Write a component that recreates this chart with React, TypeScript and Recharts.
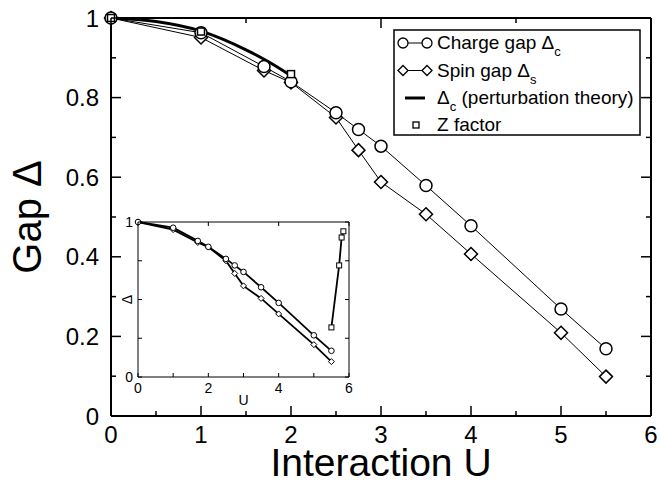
import { CartesianGrid, Line, LineChart, XAxis, YAxis } from "recharts";

// values
const chargeU = [0, 1, 1.7, 2, 2.5, 2.75, 3, 3.5, 4, 5, 5.5];
const chargeGap = [1, 0.963, 0.878, 0.84, 0.762, 0.72, 0.678, 0.579, 0.478, 0.269, 0.169];
const spinU = [0, 1, 1.7, 2, 2.5, 2.75, 3, 3.5, 4, 5, 5.5];
const spinGap = [1, 0.951, 0.868, 0.838, 0.75, 0.668, 0.588, 0.507, 0.407, 0.209, 0.099];
const pertU = [0, 0.5, 1, 1.5, 1.75, 2];
const pertGap = [1, 0.991, 0.967, 0.92, 0.89, 0.855];
const zU = [0, 1, 2];
const zVal = [1, 0.966, 0.859];
const zInsetU = [5.5, 5.72, 5.79, 5.84];
const zInsetVal = [0.32, 0.72, 0.9, 0.94];

const xTicks = [0, 0.5, 1, 1.5, 2, 2.5, 3, 3.5, 4, 4.5, 5, 5.5, 6];
const yTicks = [0, 0.1, 0.2, 0.3, 0.4, 0.5, 0.6, 0.7, 0.8, 0.9, 1];
const insetXTicks = [0, 1, 2, 3, 4, 5, 6];
const insetYTicks = [0, 0.25, 0.5, 0.75, 1];

const FONT = "'Liberation Sans', Arial, Helvetica, sans-serif";

const pts = (xs: number[], ys: number[]) => xs.map((u, i) => ({ u, g: ys[i] }));
const charge = pts(chargeU, chargeGap);
const spin = pts(spinU, spinGap);
const pert = pts(pertU, pertGap);
const zf = pts(zU, zVal);
const zfInset = pts(zInsetU, zInsetVal);

const near = (a: number, b: number) => Math.abs(a - b) < 1e-6;
const isInt = (v: number) => near(v, Math.round(v));
const isFifth = (v: number) => near(v * 5, Math.round(v * 5));

type Side = "bottom" | "top" | "left" | "right";

// inward tick line + optional label; tickSize/tickMargin are 0 so (x,y) sits on the axis line
function makeTick(
  side: Side,
  o: { len: (v: number) => number; label?: (v: number) => string; size?: number; gap?: number; sw?: number }
) {
  return function Tick(p: any) {
    const v = p.payload.value as number;
    const L = o.len(v);
    const x = Number(p.x);
    const y = Number(p.y);
    const dx = side === "left" ? L : side === "right" ? -L : 0;
    const dy = side === "bottom" ? -L : side === "top" ? L : 0;
    const lab = o.label ? o.label(v) : "";
    const gap = o.gap ?? 0;
    return (
      <g>
        <line x1={x} y1={y} x2={x + dx} y2={y + dy} stroke="#000" strokeWidth={o.sw ?? 1} />
        {lab !== "" &&
          (side === "bottom" ? (
            <text x={x} y={y + gap} textAnchor="middle" fontSize={o.size} fontFamily={FONT} fill="#000">
              {lab}
            </text>
          ) : (
            <text x={x - gap} y={y} dy="0.36em" textAnchor="end" fontSize={o.size} fontFamily={FONT} fill="#000">
              {lab}
            </text>
          ))}
      </g>
    );
  };
}

const circleDot = (r: number, sw: number) => (p: any) =>
  <circle key={`c${p.index}`} cx={p.cx} cy={p.cy} r={r} fill="#fff" stroke="#000" strokeWidth={sw} />;
const diamondDot = (h: number, sw: number) => (p: any) =>
  (
    <path
      key={`d${p.index}`}
      d={`M${p.cx},${p.cy - h}L${p.cx + h},${p.cy}L${p.cx},${p.cy + h}L${p.cx - h},${p.cy}Z`}
      fill="#fff"
      stroke="#000"
      strokeWidth={sw}
    />
  );
const squareDot = (h: number, sw: number) => (p: any) =>
  (
    <rect key={`s${p.index}`} x={p.cx - h} y={p.cy - h} width={2 * h} height={2 * h} fill="#fff" stroke="#000" strokeWidth={sw} />
  );

const mainX = (v: number) => (isInt(v) ? 10 : 5);
const mainY = (v: number) => (isFifth(v) ? 10 : 5);
const mainYLabel = (v: number) => (!isFifth(v) ? "" : near(v, 0) ? "0" : near(v, 1) ? "1" : v.toFixed(1));
const axisLine = { stroke: "#000", strokeWidth: 2 };
const insetLine = { stroke: "#000", strokeWidth: 1 };

function MainChart() {
  return (
    <LineChart width={660} height={481} margin={{ top: 17, right: 8, left: 0, bottom: 0 }}>
      <XAxis
        dataKey="u"
        type="number"
        domain={[0, 6]}
        ticks={xTicks}
        interval={0}
        height={65}
        tickSize={0}
        tickMargin={0}
        tickLine={false}
        axisLine={axisLine}
        tick={makeTick("bottom", { len: mainX, label: (v) => (isInt(v) ? String(v) : ""), size: 24, gap: 27, sw: 1.5 })}
        label={(props: any) => {
          const vb = props.viewBox;
          return (
            <text x={vb.x + vb.width / 2} y={vb.y + 60} textAnchor="middle" fontSize={39} fontFamily={FONT} fill="#000">
              Interaction U
            </text>
          );
        }}
      />
      <XAxis
        xAxisId="top"
        orientation="top"
        type="number"
        domain={[0, 6]}
        ticks={xTicks}
        interval={0}
        height={1}
        tickSize={0}
        tickMargin={0}
        tickLine={false}
        axisLine={axisLine}
        tick={makeTick("top", { len: mainX, sw: 1.5 })}
      />
      <YAxis
        type="number"
        domain={[0, 1]}
        ticks={yTicks}
        interval={0}
        width={111}
        tickSize={0}
        tickMargin={0}
        tickLine={false}
        axisLine={axisLine}
        tick={makeTick("left", { len: mainY, label: mainYLabel, size: 24, gap: 12, sw: 1.5 })}
        label={(props: any) => {
          const vb = props.viewBox;
          const cx = vb.x + 41;
          const cy = vb.y + vb.height / 2;
          return (
            <text x={cx} y={cy} transform={`rotate(-90, ${cx}, ${cy})`} textAnchor="middle" fontSize={40} fontFamily={FONT} fill="#000">
              Gap Δ
            </text>
          );
        }}
      />
      <YAxis
        yAxisId="right"
        orientation="right"
        type="number"
        domain={[0, 1]}
        ticks={yTicks}
        interval={0}
        width={1}
        tickSize={0}
        tickMargin={0}
        tickLine={false}
        axisLine={axisLine}
        tick={makeTick("right", { len: mainY, sw: 1.5 })}
      />
      <Line data={spin} dataKey="g" stroke="#000" strokeWidth={1} dot={diamondDot(6.5, 1.5)} isAnimationActive={false} />
      <Line data={charge} dataKey="g" stroke="#000" strokeWidth={1} dot={circleDot(6, 1.5)} isAnimationActive={false} />
      <Line data={pert} dataKey="g" type="monotone" stroke="#000" strokeWidth={3} dot={false} isAnimationActive={false} />
      <Line data={zf} dataKey="g" stroke="none" dot={squareDot(3.5, 1.5)} isAnimationActive={false} />
      {/* invisible series so the top/right frame axes get a scale */}
      <Line data={zf} dataKey="g" xAxisId="top" yAxisId="right" stroke="none" dot={false} legendType="none" isAnimationActive={false} />
    </LineChart>
  );
}

function InsetChart() {
  return (
    <LineChart width={260} height={200} margin={{ top: 9, right: 10, left: 0, bottom: 0 }}>
      <CartesianGrid horizontal={false} vertical={false} fill="#fff" />
      <XAxis
        dataKey="u"
        type="number"
        domain={[0, 6]}
        ticks={insetXTicks}
        interval={0}
        height={35}
        tickSize={0}
        tickMargin={0}
        tickLine={false}
        axisLine={insetLine}
        tick={makeTick("bottom", { len: () => 4, label: (v) => (v % 2 === 0 ? String(v) : ""), size: 14, gap: 16 })}
        label={(props: any) => {
          const vb = props.viewBox;
          return (
            <text x={vb.x + vb.width / 2} y={vb.y + 28} textAnchor="middle" fontSize={14} fontFamily={FONT} fill="#000">
              U
            </text>
          );
        }}
      />
      <XAxis
        xAxisId="top"
        orientation="top"
        type="number"
        domain={[0, 6]}
        ticks={insetXTicks}
        interval={0}
        height={1}
        tickSize={0}
        tickMargin={0}
        tickLine={false}
        axisLine={insetLine}
        tick={makeTick("top", { len: () => 4 })}
      />
      <YAxis
        type="number"
        domain={[0, 1]}
        ticks={insetYTicks}
        interval={0}
        width={38}
        tickSize={0}
        tickMargin={0}
        tickLine={false}
        axisLine={insetLine}
        tick={makeTick("left", { len: () => 4, label: (v) => (v === 0 ? "0" : v === 1 ? "1" : ""), size: 14, gap: 5 })}
        label={(props: any) => {
          const vb = props.viewBox;
          const cx = vb.x + vb.width - 6;
          const cy = vb.y + vb.height / 2;
          return (
            <text x={cx} y={cy} transform={`rotate(-90, ${cx}, ${cy})`} textAnchor="middle" fontSize={14} fontFamily={FONT} fill="#000">
              Δ
            </text>
          );
        }}
      />
      <YAxis
        yAxisId="right"
        orientation="right"
        type="number"
        domain={[0, 1]}
        ticks={insetYTicks}
        interval={0}
        width={1}
        tickSize={0}
        tickMargin={0}
        tickLine={false}
        axisLine={insetLine}
        tick={makeTick("right", { len: () => 4 })}
      />
      <Line data={spin} dataKey="g" stroke="#000" strokeWidth={1.8} dot={diamondDot(3, 1)} isAnimationActive={false} />
      <Line data={charge} dataKey="g" stroke="#000" strokeWidth={1.8} dot={circleDot(2.8, 1)} isAnimationActive={false} />
      <Line data={zfInset} dataKey="g" stroke="#000" strokeWidth={1.8} dot={squareDot(2.5, 1)} isAnimationActive={false} />
      <Line data={zfInset} dataKey="g" xAxisId="top" yAxisId="right" stroke="none" dot={false} legendType="none" isAnimationActive={false} />
    </LineChart>
  );
}

function LegendBox() {
  const rows = [14, 41.5, 69, 96];
  const tx = 44;
  return (
    <svg width={248} height={107} style={{ position: "absolute", left: 393, top: 29 }}>
      <rect x={1} y={1} width={246} height={105} fill="#fff" stroke="#000" strokeWidth={1.5} />
      <line x1={10} y1={rows[0]} x2={34} y2={rows[0]} stroke="#000" strokeWidth={1} />
      <circle cx={10} cy={rows[0]} r={5} fill="#fff" stroke="#000" strokeWidth={1.3} />
      <circle cx={34} cy={rows[0]} r={5} fill="#fff" stroke="#000" strokeWidth={1.3} />
      <text x={tx} y={rows[0] + 6} fontSize={19} fontFamily={FONT} fill="#000">
        Charge gap Δ<tspan dy={7} fontSize={13}>c</tspan>
      </text>
      <line x1={10} y1={rows[1]} x2={34} y2={rows[1]} stroke="#000" strokeWidth={1} />
      <path d={`M10,${rows[1] - 5}L15,${rows[1]}L10,${rows[1] + 5}L5,${rows[1]}Z`} fill="#fff" stroke="#000" strokeWidth={1.3} />
      <path d={`M34,${rows[1] - 5}L39,${rows[1]}L34,${rows[1] + 5}L29,${rows[1]}Z`} fill="#fff" stroke="#000" strokeWidth={1.3} />
      <text x={tx} y={rows[1] + 6} fontSize={19} fontFamily={FONT} fill="#000">
        Spin gap Δ<tspan dy={7} fontSize={13}>s</tspan>
      </text>
      <line x1={12} y1={rows[2]} x2={32} y2={rows[2]} stroke="#000" strokeWidth={3} />
      <text x={tx} y={rows[2] + 6} fontSize={19} fontFamily={FONT} fill="#000">
        Δ<tspan dy={7} fontSize={13}>c</tspan>
        <tspan dy={-7}> (perturbation theory)</tspan>
      </text>
      <rect x={20} y={rows[3] - 3} width={6} height={6} fill="#fff" stroke="#000" strokeWidth={1.3} />
      <text x={tx} y={rows[3] + 6} fontSize={19} fontFamily={FONT} fill="#000">
        Z factor
      </text>
    </svg>
  );
}

export default function App() {
  return (
    <div style={{ position: "absolute", left: 0, top: 0, width: 660, height: 481, background: "#fff" }}>
      <MainChart />
      <div style={{ position: "absolute", left: 100, top: 212 }}>
        <InsetChart />
      </div>
      <LegendBox />
    </div>
  );
}
